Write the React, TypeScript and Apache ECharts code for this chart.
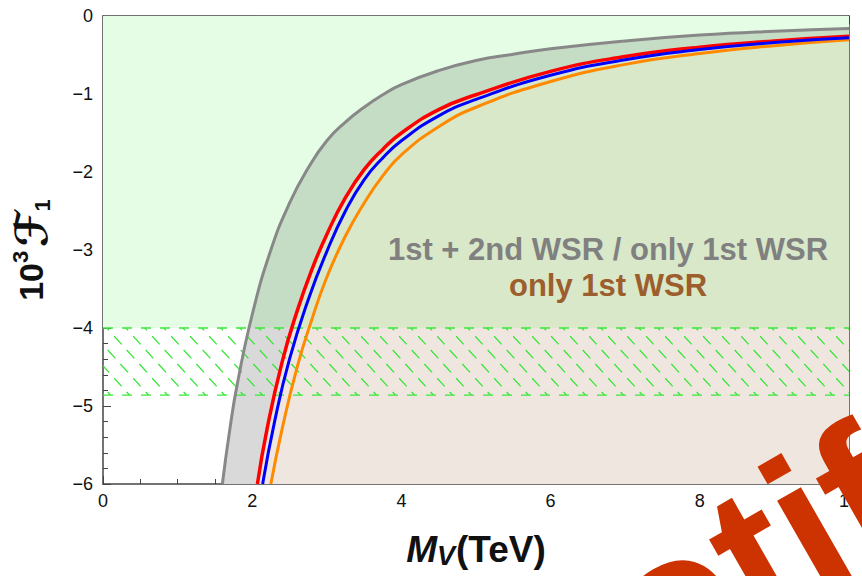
import React, { useEffect, useRef } from 'react';
import * as echarts from 'echarts';

// ---- data ----
const grayM = [1.6, 1.7, 1.8, 2.0, 2.25, 2.5, 2.75, 3.0, 3.25, 3.5, 3.75, 4.0, 4.5, 5.0, 5.5, 6.0, 7.0, 8.0, 9.0, 10.0];
const grayF = [-6.0, -5.3, -4.72, -3.83, -3.0, -2.4, -1.95, -1.6, -1.36, -1.17, -1.01, -0.88, -0.7, -0.57, -0.49, -0.42, -0.32, -0.245, -0.195, -0.16];

const redM = [2.07, 2.2, 2.4, 2.6, 2.8, 3.0, 3.25, 3.5, 3.75, 4.0, 4.5, 5.0, 6.0, 7.0, 8.0, 9.0, 10.0];
const redF = [-6.0, -5.29, -4.44, -3.79, -3.25, -2.8, -2.33, -1.97, -1.71, -1.5, -1.2, -1.01, -0.71, -0.52, -0.4, -0.32, -0.26];

const blueM = [2.14, 2.3, 2.5, 2.75, 3.0, 3.25, 3.5, 3.75, 4.0, 4.5, 5.0, 6.0, 7.0, 8.0, 9.0, 10.0];
const blueF = [-6.0, -5.2, -4.4, -3.64, -3.02, -2.5, -2.1, -1.82, -1.6, -1.28, -1.07, -0.76, -0.56, -0.43, -0.34, -0.28];

const orangeM = [2.25, 2.4, 2.6, 2.8, 3.0, 3.25, 3.5, 3.75, 4.0, 4.5, 5.0, 6.0, 7.0, 8.0, 9.0, 10.0];
const orangeF = [-6.0, -5.3, -4.51, -3.89, -3.35, -2.82, -2.4, -2.05, -1.78, -1.42, -1.17, -0.84, -0.62, -0.48, -0.38, -0.305];

const greenBand = [-4, 0];
const hatchBand = [-4.86, -4];

const xRange = [0, 10];
const yRange = [-6, 0];

const label1 = '1st + 2nd WSR / only 1st WSR';
const label2 = 'only 1st WSR';
const watermark = 'otif';

const FONT = '"Liberation Sans", Arial, Helvetica, sans-serif';

function zip(a: number[], b: number[]) {
  return a.map((m, i) => [m, b[i]]);
}

export default function App() {
  const ref = useRef<HTMLDivElement>(null);
  useEffect(() => {
    const el = ref.current!;
    const chart = echarts.init(el, null, { renderer: 'svg' });
    const H = 576;
    const GRID = { left: 103, right: 5, top: 16, bottom: 92 };
    const plotH = H - GRID.top - GRID.bottom;
    const cut = (yRange[1] - greenBand[0]) / (yRange[1] - yRange[0]);
    const grad = (a: string, b: string) =>
      new echarts.graphic.LinearGradient(
        0, GRID.top, 0, GRID.top + plotH,
        [
          { offset: 0, color: a },
          { offset: cut, color: a },
          { offset: cut, color: b },
          { offset: 1, color: b },
        ],
        true
      );

    // hatch pattern tile
    const cv = document.createElement('canvas');
    cv.width = 19;
    cv.height = 42;
    const ctx = cv.getContext('2d')!;
    ctx.strokeStyle = '#2ee62e';
    ctx.lineWidth = 1.2;
    for (let k = 0; k < 3; k++) {
      const x0 = (k * 12.67) % 19;
      const y0 = k * 14;
      for (const dx of [0, -19]) {
        ctx.beginPath();
        ctx.moveTo(x0 + dx, y0);
        ctx.lineTo(x0 + dx + 7.7, y0 + 8.3);
        ctx.stroke();
      }
    }
    const pattern: any = { image: cv, repeat: 'repeat' };

    const axisColor = '#444';
    const tickStyle = { color: axisColor, width: 1 };
    const mkX = (pos: 'bottom' | 'top', labels: boolean): any => ({
      type: 'value',
      position: pos,
      min: xRange[0],
      max: xRange[1],
      interval: 2,
      axisLine: { show: true, onZero: false, lineStyle: { color: axisColor, width: 1.5 } },
      axisTick: { show: true, inside: true, length: 8, lineStyle: tickStyle },
      minorTick: { show: true, splitNumber: 4, length: 5, lineStyle: tickStyle },
      splitLine: { show: false },
      minorSplitLine: { show: false },
      axisLabel: {
        show: labels,
        fontSize: 18,
        color: '#111',
        fontFamily: FONT,
        margin: 8,
      },
      ...(labels
        ? {
            name: '{mi|M}{sub|V}{b|(TeV)}',
            nameLocation: 'middle',
            nameGap: 45,
            nameTextStyle: {
              rich: {
                mi: { fontSize: 37, fontWeight: 'bold', fontStyle: 'italic', fontFamily: FONT, color: '#111', lineHeight: 40 },
                sub: { fontSize: 27, fontWeight: 'bold', fontStyle: 'italic', fontFamily: FONT, color: '#111', verticalAlign: 'bottom', lineHeight: 27, padding: [0, 1, 0, 0] },
                b: { fontSize: 37, fontWeight: 'bold', fontFamily: FONT, color: '#111', lineHeight: 40 },
              },
            },
          }
        : {}),
    });
    const mkY = (pos: 'left' | 'right', labels: boolean): any => ({
      type: 'value',
      position: pos,
      min: yRange[0],
      max: yRange[1],
      interval: 1,
      axisLine: { show: true, onZero: false, lineStyle: { color: axisColor, width: 1.5 } },
      axisTick: { show: true, inside: true, length: 8, lineStyle: tickStyle },
      minorTick: { show: true, splitNumber: 5, length: 5, lineStyle: tickStyle },
      splitLine: { show: false },
      minorSplitLine: { show: false },
      axisLabel: {
        show: labels,
        fontSize: 18,
        color: '#111',
        fontFamily: FONT,
        margin: 10,
        formatter: (v: number) => (v < 0 ? '\u2212' + Math.abs(v) : String(v)),
      },
      ...(labels
        ? {
            name: '{b|10}{sup|3}{sp| }{f|\u2131}{sub|1}',
            nameLocation: 'middle',
            nameGap: 50,
            nameRotate: 90,
            nameTextStyle: {
              rich: {
                b: { fontSize: 34, fontWeight: 'bold', fontFamily: FONT, color: '#111', lineHeight: 44 },
                sup: { fontSize: 22, fontWeight: 'bold', fontFamily: FONT, color: '#111', verticalAlign: 'top', lineHeight: 24 },
                sp: { fontSize: 14, lineHeight: 20 },
                f: { fontSize: 44, fontWeight: 'bold', fontFamily: '"DejaVu Sans", "DejaVu Serif", serif', color: '#111', lineHeight: 44 },
                sub: { fontSize: 22, fontWeight: 'bold', fontFamily: FONT, color: '#111', verticalAlign: 'bottom', lineHeight: 22 },
              },
            },
          }
        : {}),
    });

    const curve = (data: number[][], color: string, width: number, z: number): any => ({
      type: 'line',
      data,
      smooth: 0.5,
      symbol: 'none',
      silent: true,
      z,
      lineStyle: { color, width },
    });
    const area = (data: number[][], top: string, bottom: string): any => ({
      type: 'line',
      data,
      smooth: 0.5,
      symbol: 'none',
      silent: true,
      z: 2,
      lineStyle: { width: 0, opacity: 0 },
      areaStyle: { color: grad(top, bottom), opacity: 1, origin: 'start' },
    });

    chart.setOption({
      animation: false,
      grid: { ...GRID, containLabel: false },
      xAxis: [mkX('bottom', true), mkX('top', false)],
      yAxis: [mkY('left', true), mkY('right', false)],
      series: [
        {
          type: 'custom',
          silent: true,
          z: 1,
          data: [greenBand],
          renderItem: (params: any, api: any) => {
            const cs = params.coordSys;
            const y1 = api.coord([xRange[0], api.value(1)])[1];
            const y0 = api.coord([xRange[0], api.value(0)])[1];
            return {
              type: 'rect',
              shape: { x: cs.x, y: y1, width: cs.width, height: y0 - y1 },
              style: { fill: '#e5fce5' },
            };
          },
        },
        area(zip(grayM, grayF), '#c5dcc5', '#d9d9d9'),
        area(zip(redM, redF), '#d9e8c9', '#efe6e0'),
        {
          type: 'custom',
          silent: true,
          z: 3,
          data: [hatchBand],
          renderItem: (params: any, api: any) => {
            const cs = params.coordSys;
            const yTop = api.coord([xRange[0], api.value(1)])[1];
            const yBot = api.coord([xRange[0], api.value(0)])[1];
            return {
              type: 'group',
              children: [
                {
                  type: 'rect',
                  shape: { x: cs.x, y: yTop, width: cs.width, height: yBot - yTop },
                  style: { fill: pattern },
                },
                {
                  type: 'line',
                  shape: { x1: cs.x, y1: yTop, x2: cs.x + cs.width, y2: yTop },
                  style: { stroke: '#3be83b', lineWidth: 1.6, lineDash: [10, 9] },
                },
                {
                  type: 'line',
                  shape: { x1: cs.x, y1: yBot, x2: cs.x + cs.width, y2: yBot },
                  style: { stroke: '#3be83b', lineWidth: 1.2, lineDash: [10, 9] },
                },
              ],
            };
          },
        },
        curve(zip(grayM, grayF), '#888888', 3, 5),
        curve(zip(orangeM, orangeF), '#ff8a00', 3, 5),
        curve(zip(redM, redF), '#ff0000', 3.5, 6),
        curve(zip(blueM, blueF), '#0000ff', 3, 7),
      ],
      graphic: [
        {
          type: 'text',
          x: 608,
          y: 249,
          z: 50,
          silent: true,
          style: {
            text: label1,
            fontSize: 31,
            fontWeight: 'bold',
            fontFamily: FONT,
            fill: '#808080',
            textAlign: 'center',
            textVerticalAlign: 'middle',
          },
        },
        {
          type: 'text',
          x: 608,
          y: 285.5,
          z: 50,
          silent: true,
          style: {
            text: label2,
            fontSize: 31,
            fontWeight: 'bold',
            fontFamily: FONT,
            fill: '#9b5e2c',
            textAlign: 'center',
            textVerticalAlign: 'middle',
          },
        },
        {
          type: 'text',
          x: 619,
          y: 633,
          rotation: 0.52,
          z: 100,
          silent: true,
          style: {
            text: watermark,
            fontSize: 200,
            fontWeight: 'bold',
            fontFamily: FONT,
            fill: '#cc3300',
            textAlign: 'left',
            textVerticalAlign: 'middle',
          },
        },
      ],
    });
    return () => chart.dispose();
  }, []);
  return (
    <div
      ref={ref}
      style={{ position: 'fixed', left: 0, top: 0, width: 862, height: 576, background: '#fff' }}
    />
  );
}
